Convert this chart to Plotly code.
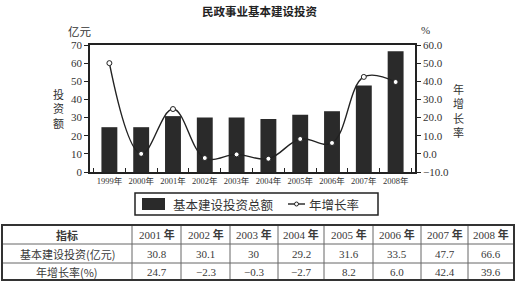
import plotly.graph_objects as go

# ---------------- data ----------------
years = ["1999年", "2000年", "2001年", "2002年", "2003年", "2004年", "2005年", "2006年", "2007年", "2008年"]
invest = [24.7, 24.7, 30.8, 30.1, 30.0, 29.2, 31.6, 33.5, 47.7, 66.6]          # 亿元
growth = [50.0, 0.0, 24.7, -2.3, -0.3, -2.7, 8.2, 6.0, 42.4, 39.6]            # %

table_header = "指标"
table_years = ["2001 年", "2002 年", "2003 年", "2004 年", "2005 年", "2006 年", "2007 年", "2008 年"]
table_invest = [30.8, 30.1, 30, 29.2, 31.6, 33.5, 47.7, 66.6]
table_growth = [24.7, -2.3, -0.3, -2.7, 8.2, 6.0, 42.4, 39.6]
row_labels = ["基本建设投资(亿元)", "年增长率(%)"]

title = "民政事业基本建设投资"
bar_name = "基本建设投资总额"
line_name = "年增长率"

# ---------------- layout constants (pixels) ----------------
W, H = 516, 282
SERIF = "Liberation Serif, Noto Sans CJK SC, serif"
CJK = "Noto Sans CJK SC, sans-serif"
INK = "#222222"
col_edges = [2, 132, 181, 230, 278, 324, 373, 421, 468, 514]
row_edges = [225, 244, 263, 280]


def px(x):
    return x / W


def py(y):
    return 1 - y / H


fig = go.Figure()

fig.add_trace(go.Bar(
    x=years, y=invest, name=bar_name, width=0.5,
    marker=dict(color="#2a2a2a", line=dict(width=0)),
    yaxis="y", showlegend=False,
))
fig.add_trace(go.Scatter(
    x=years, y=growth, name=line_name, yaxis="y2", mode="lines+markers",
    line=dict(color=INK, width=1.4, shape="spline", smoothing=1.1),
    marker=dict(symbol="circle", size=5, color="white", line=dict(color=INK, width=1)),
    showlegend=False,
))

axis_common = dict(showgrid=False, zeroline=False, showline=True, linecolor=INK, linewidth=1.5,
                   automargin=False, tickfont=dict(family=SERIF, size=11, color="#333333"))

fig.update_layout(
    width=W, height=H,
    margin=dict(l=0, r=0, t=0, b=0, autoexpand=False),
    paper_bgcolor="white", plot_bgcolor="white",
    showlegend=False,
    xaxis=dict(domain=[px(90), px(415)], type="category", mirror=True, tickangle=0,
               ticks="inside", tickson="boundaries", ticklen=4, tickcolor=INK,
               **{**axis_common, "tickfont": dict(family=SERIF, size=8.5, color="#333333")}),
    yaxis=dict(domain=[py(172), py(45)], range=[0, 70], dtick=10, ticks="outside",
               ticklen=4, tickcolor=INK, **axis_common),
    yaxis2=dict(overlaying="y", side="right", anchor="x", range=[-10, 60], dtick=10,
                tickformat=".1f", ticks="outside", ticklen=4, tickcolor=INK, **axis_common),
    bargap=0.5,
)

P = dict(xref="paper", yref="paper", showarrow=False, yanchor="middle")
ann = []
ann.append(dict(x=px(259), y=py(11), xanchor="center", text=f"<b>{title}</b>",
                font=dict(family=CJK, size=11.5, color="#222222"), **P))
ann.append(dict(x=px(80), y=py(31), xanchor="center", text="亿元",
                font=dict(family=CJK, size=11.5, color="#333333"), **P))
ann.append(dict(x=px(425), y=py(30), xanchor="center", text="%",
                font=dict(family=SERIF, size=11, color="#333333"), **P))
ann.append(dict(x=px(58), y=py(108), xanchor="center", text="投<br>资<br>额",
                font=dict(family=CJK, size=11, color="#333333"), **P))
ann.append(dict(x=px(458), y=py(110), xanchor="center", text="年<br>增<br>长<br>率",
                font=dict(family=CJK, size=11, color="#333333"), **P))
# legend texts
ann.append(dict(x=px(171), y=py(204), xanchor="left", text=bar_name,
                font=dict(family=CJK, size=12.5, color="#333333"), **P))
ann.append(dict(x=px(307), y=py(204), xanchor="left", text=line_name,
                font=dict(family=CJK, size=12.5, color="#333333"), **P))


# ---------------- table (text from the data arrays) ----------------
def fmt_num(v):
    return f"{v:g}"


def fmt_pct(v):
    return f"{v:.1f}".replace("-", "−")


def year_head(s):
    num, unit = s.split(" ")
    return f"{num} <b>{unit}</b>"


table_rows = [
    [f"<b>{table_header}</b>"] + [year_head(t) for t in table_years],
    [row_labels[0]] + [fmt_num(v) for v in table_invest],
    [row_labels[1]] + [fmt_pct(v) for v in table_growth],
]
for r, row in enumerate(table_rows):
    yc = (row_edges[r] + row_edges[r + 1]) / 2
    for c, txt in enumerate(row):
        xc = (col_edges[c] + col_edges[c + 1]) / 2
        fam = CJK if c == 0 else SERIF
        ann.append(dict(x=px(xc), y=py(yc), xanchor="center", text=txt,
                        font=dict(family=fam, size=11, color="#3a3a3a"), **P))

fig.update_layout(annotations=ann)

shapes = [
    # legend box & symbols
    dict(type="rect", xref="paper", yref="paper", x0=px(135), x1=px(378), y0=py(215), y1=py(193),
         line=dict(color=INK, width=1.5)),
    dict(type="rect", xref="paper", yref="paper", x0=px(142), x1=px(165), y0=py(210), y1=py(198),
         fillcolor="#2a2a2a", line=dict(width=0)),
    dict(type="line", xref="paper", yref="paper", x0=px(288), x1=px(305), y0=py(204), y1=py(204),
         line=dict(color=INK, width=1.4)),
    dict(type="circle", xref="paper", yref="paper", x0=px(294.5), x1=px(298.5), y0=py(206), y1=py(202),
         fillcolor="white", line=dict(color=INK, width=1)),
]
# table grid
for xe in col_edges[1:-1]:
    shapes.append(dict(type="line", xref="paper", yref="paper", x0=px(xe), x1=px(xe),
                       y0=py(row_edges[0]), y1=py(row_edges[-1]), line=dict(color="#666666", width=1)))
for ye in row_edges[1:-1]:
    shapes.append(dict(type="line", xref="paper", yref="paper", x0=px(col_edges[0]), x1=px(col_edges[-1]),
                       y0=py(ye), y1=py(ye), line=dict(color="#666666", width=1)))
shapes.append(dict(type="rect", xref="paper", yref="paper", x0=px(col_edges[0]), x1=px(col_edges[-1]),
                   y0=py(row_edges[-1]), y1=py(row_edges[0]), line=dict(color="#333333", width=2)))
fig.update_layout(shapes=shapes)

fig.write_html("out.html")
